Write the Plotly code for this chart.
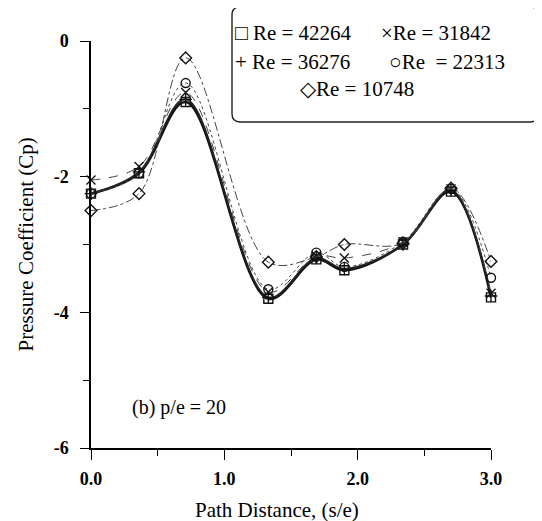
import plotly.graph_objects as go

# ---- data ----
path_distance = [0.0, 0.36, 0.71, 1.33, 1.69, 1.90, 2.34, 2.70, 3.0]
cp_re42264 = [-2.25, -1.95, -0.90, -3.80, -3.22, -3.38, -3.00, -2.22, -3.78]
cp_re36276 = [-2.25, -1.93, -0.86, -3.78, -3.20, -3.36, -3.00, -2.20, -3.76]
cp_re31842 = [-2.05, -1.85, -0.76, -3.70, -3.17, -3.20, -2.96, -2.18, -3.72]
cp_re22313 = [-2.25, -1.95, -0.62, -3.66, -3.12, -3.33, -2.96, -2.18, -3.49]
cp_re10748 = [-2.50, -2.25, -0.25, -3.26, -3.18, -3.00, -2.98, -2.17, -3.25]

series_names = ["Re = 42264", "Re = 36276", "Re = 31842", "Re = 22313", "Re = 10748"]
x_tick_vals = [0, 1, 2, 3]
x_tick_text = ["0.0", "1.0", "2.0", "3.0"]
y_tick_vals = [0, -2, -4, -6]
y_tick_text = ["0", "-2", "-4", "-6"]

SERIF = "Liberation Serif, Times New Roman, serif"

styles = [
    (cp_re42264, "square-open", "solid", 2.6, "#111"),
    (cp_re36276, "cross-thin-open", "solid", 2.0, "#222"),
    (cp_re31842, "x-thin-open", "dash", 1.0, "#444"),
    (cp_re22313, "circle-open", "dot", 1.0, "#444"),
    (cp_re10748, "diamond-open", "dashdot", 1.0, "#444"),
]

fig = go.Figure()
for (vals, sym, dash, w, col), name in zip(styles, series_names):
    fig.add_trace(go.Scatter(
        x=path_distance, y=vals, name=name, mode="lines+markers",
        line=dict(shape="spline", smoothing=1.0, dash=dash, width=w, color=col),
        marker=dict(symbol=sym, size=9, color="#111", line=dict(width=1.4, color="#111")),
        cliponaxis=False, showlegend=False,
    ))

# page body has an 8px margin, so the figure is 8px smaller than the window
fig.update_layout(
    width=534, height=513,
    margin=dict(l=83, r=51, t=33, b=73),
    paper_bgcolor="white", plot_bgcolor="white",
    font=dict(family=SERIF, color="black"),
    xaxis=dict(
        range=[0, 3], tickvals=x_tick_vals, ticktext=x_tick_text,
        ticks="outside", ticklen=10, tickwidth=1.3, tickcolor="black",
        minor=dict(dtick=0.5, tick0=0, ticks="outside", ticklen=6, tickcolor="black"),
        showline=True, linecolor="black", linewidth=1.5,
        showgrid=False, zeroline=False,
        tickfont=dict(family=SERIF, size=18, color="black", weight="bold"),
        ticklabelstandoff=4,
    ),
    yaxis=dict(
        range=[-6, 0], tickvals=y_tick_vals, ticktext=y_tick_text,
        ticks="outside", ticklen=9, tickwidth=1.3, tickcolor="black",
        minor=dict(dtick=1, tick0=0, ticks="outside", ticklen=6, tickcolor="black"),
        showline=True, linecolor="black", linewidth=1.5,
        showgrid=False, zeroline=False,
        tickfont=dict(family=SERIF, size=18, color="black", weight="bold"),
        ticklabelstandoff=8,
    ),
)

# axis titles
fig.add_annotation(text="Path Distance, (s/e)", xref="paper", yref="paper",
                   x=0.465, y=-0.152, xanchor="center", yanchor="middle",
                   showarrow=False, font=dict(family=SERIF, size=21))
fig.add_annotation(text="Pressure Coefficient (Cp)", xref="paper", yref="paper",
                   x=-0.165, y=0.5, xanchor="center", yanchor="middle", textangle=-90,
                   showarrow=False, font=dict(family=SERIF, size=21))
# panel label
fig.add_annotation(text="(b) p/e = 20", xref="paper", yref="paper",
                   x=0.0975, y=0.1, xanchor="left", yanchor="middle",
                   showarrow=False, font=dict(family=SERIF, size=20))

# legend box (rounded)
x0, x1, y0, y1 = 0.3525, 1.1175, 0.801, 1.0835
rx, ry = 0.02, 0.02
path = (f"M {x0+rx},{y1} L {x1-rx},{y1} Q {x1},{y1} {x1},{y1-ry} "
        f"L {x1},{y0+ry} Q {x1},{y0} {x1-rx},{y0} L {x0+rx},{y0} "
        f"Q {x0},{y0} {x0},{y0+ry} L {x0},{y1-ry} Q {x0},{y1} {x0+rx},{y1} Z")
fig.add_shape(type="path", path=path, xref="paper", yref="paper",
              line=dict(color="#222", width=1.4), fillcolor="white", layer="above")

legend_items = [
    ("\u25a1 " + series_names[0], 0.355, 1.0197),
    ("\u00d7" + series_names[2], 0.72, 1.0197),
    ("+ " + series_names[1], 0.355, 0.948),
    ("\u25cb" + series_names[3].replace("Re =", "Re  ="), 0.74, 0.948),
    ("\u25c7" + series_names[4], 0.5175, 0.882),
]
for txt, lx, ly in legend_items:
    fig.add_annotation(text=txt, xref="paper", yref="paper", x=lx, y=ly,
                       xanchor="left", yanchor="middle", showarrow=False,
                       font=dict(family=SERIF, size=21))

fig.write_html("out.html")
